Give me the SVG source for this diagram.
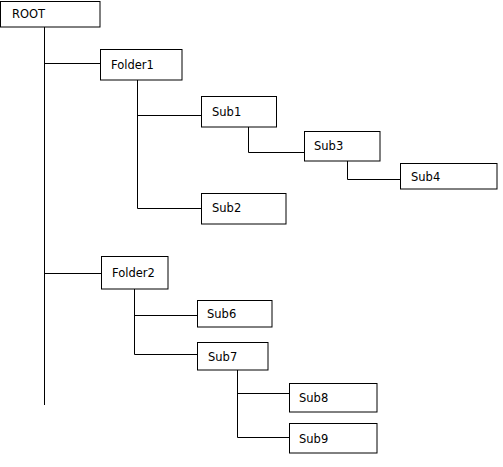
<svg xmlns="http://www.w3.org/2000/svg" width="503" height="467" viewBox="0 0 503 467">
<style>
.box{fill:#fff;stroke:#000;stroke-width:1}
.lbl{font-family:"DejaVu Sans",Verdana,sans-serif;font-size:11.5px;fill:#000}
.con{stroke:#000;stroke-width:1;fill:none}
</style>
<rect width="503" height="467" fill="#fff"/>
<g id="connectors">
<path class="con" d="M44.5 27V405M44.5 63.5H100.5M44.5 273.5H101"/>
<path class="con" d="M137.5 80V208.5H201M137.5 115.5H201"/>
<path class="con" d="M248.5 127V152.5H304"/>
<path class="con" d="M347.5 161V179.5H400"/>
<path class="con" d="M134.5 289V354.5H197M134.5 315.5H197"/>
<path class="con" d="M237.5 370V437.5H289M237.5 393.5H289"/>
</g>
<g id="root"><rect class="box" x="0.5" y="1.5" width="99.5" height="25.5"/><text class="lbl" x="12" y="18">ROOT</text></g>
<g id="folder1"><rect class="box" x="100.5" y="49.5" width="81.5" height="30.5"/><text class="lbl" x="111" y="69">Folder1</text></g>
<g id="sub1"><rect class="box" x="201.5" y="96.5" width="75" height="30.5"/><text class="lbl" x="212" y="116">Sub1</text></g>
<g id="sub3"><rect class="box" x="304.5" y="131.5" width="75.5" height="29.5"/><text class="lbl" x="314" y="150">Sub3</text></g>
<g id="sub4"><rect class="box" x="400.5" y="163.5" width="96.5" height="25.5"/><text class="lbl" x="411" y="181">Sub4</text></g>
<g id="sub2"><rect class="box" x="201.5" y="193.5" width="84.5" height="30.5"/><text class="lbl" x="212" y="212">Sub2</text></g>
<g id="folder2"><rect class="box" x="101.5" y="256.5" width="66.5" height="32.5"/><text class="lbl" x="112" y="277">Folder2</text></g>
<g id="sub6"><rect class="box" x="197.5" y="300.5" width="74.5" height="26.5"/><text class="lbl" x="207" y="318">Sub6</text></g>
<g id="sub7"><rect class="box" x="197.5" y="342.5" width="70.5" height="27.5"/><text class="lbl" x="208" y="361">Sub7</text></g>
<g id="sub8"><rect class="box" x="289.5" y="383.5" width="87.5" height="28.5"/><text class="lbl" x="299" y="402">Sub8</text></g>
<g id="sub9"><rect class="box" x="289.5" y="423.5" width="87.5" height="29.5"/><text class="lbl" x="299" y="443">Sub9</text></g>
</svg>
